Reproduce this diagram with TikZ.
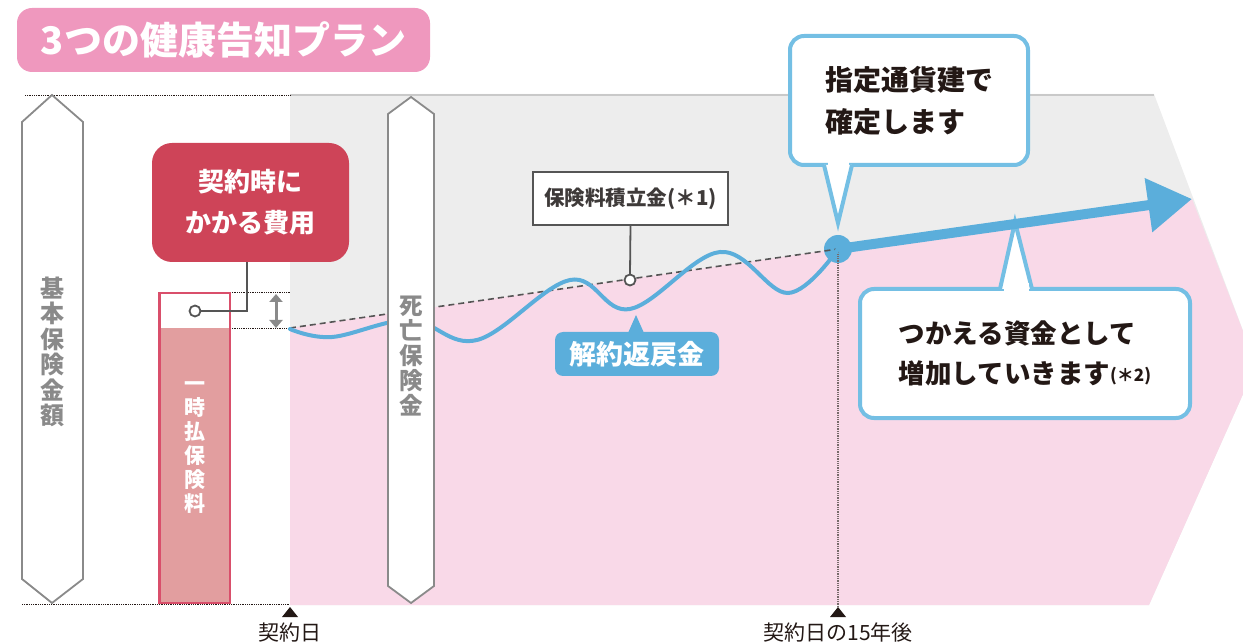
\documentclass[tikz,border=0pt]{standalone}
\usepackage{fontspec}
\setmainfont{Noto Sans CJK JP}
\usetikzlibrary{arrows.meta}
\definecolor{titlepink}{HTML}{EF98BE}
\definecolor{grayfill}{HTML}{EDEDED}
\definecolor{graytop}{HTML}{C9C9C9}
\definecolor{pinkfill}{HTML}{F9D9E8}
\definecolor{wblue}{HTML}{5BAEDB}
\definecolor{cblue}{HTML}{74BFE4}
\definecolor{redbox}{HTML}{CE4458}
\definecolor{barfill}{HTML}{E29E9F}
\definecolor{barborder}{HTML}{D94F6B}
\definecolor{agray}{HTML}{8A8A8A}
\definecolor{dark}{HTML}{231815}
\definecolor{boxgray}{HTML}{555555}
\definecolor{boxtext}{HTML}{3E3A39}
\begin{document}
\begin{tikzpicture}[x=1pt,y=-1pt,
  every node/.style={inner sep=0pt, outer sep=0pt},
  guide/.style={dark, line width=0.8pt, densely dotted},
  vshape/.style={agray, line width=1.8pt, fill=white, line join=miter},
  vtext/.style={agray, align=center, font=\fontsize{24}{25.5}\selectfont\bfseries},
  callout/.style={draw=cblue, line width=4pt, fill=white, rounded corners=14pt, text=dark, align=left},
  conn/.style={boxgray, line width=1.8pt},
  smallring/.style={circle, draw=boxgray, line width=1.8pt, fill=white, minimum size=11pt},
  datelabel/.style={dark, font=\fontsize{21}{21}\selectfont}
]
\useasboundingbox (0,0) rectangle (1243,644);

% title
\node[fill=titlepink, rounded corners=15pt, minimum width=413pt, minimum height=64pt,
      text=white, font=\fontsize{38}{38}\selectfont\bfseries] (title) at (223.5,40) {3つの健康告知プラン};

% background regions
\fill[grayfill] (290,94) -- (1154,94) -- (1256,365) -- (1149,605) -- (290,605) -- cycle;
\draw[graytop, line width=2pt] (290,95) -- (1154,95);
\fill[pinkfill] (290,328) -- (838,249) -- (1192,199) -- (1256,365) -- (1149,605) -- (290,605) -- cycle;

% guide lines
\coordinate (gtopL) at (25,95);   \coordinate (gtopR) at (290,95);
\coordinate (gbotL) at (22,604);  \coordinate (gbotR) at (290,604);
\coordinate (g1L) at (158,292);   \coordinate (g1R) at (290,292);
\coordinate (g2L) at (158,328);   \coordinate (g2R) at (290,328);
\draw[guide] (gtopL) -- (gtopR);
\draw[guide] (gbotL) -- (gbotR);
\draw[guide] (g1L) -- (g1R);
\draw[guide] (g2L) -- (g2R);

% left arrow shape
\draw[vshape] (52,95) -- (83,122) -- (83,579) -- (52,603) -- (22,579) -- (22,122) -- cycle;
\node[vtext] (basic) at (52,352) {基\\本\\保\\険\\金\\額};

% premium bar
\fill[barfill] (158,328) rectangle (231,604);
\draw[barborder, line width=2.5pt] (159.25,293.25) rectangle (229.75,602.75);
\node[white, align=center, font=\fontsize{21}{24}\selectfont\bfseries] (prem) at (194.5,448) {一\\時\\払\\保\\険\\料};

% cost box
\node[fill=redbox, rounded corners=20pt, minimum width=197pt, minimum height=119pt,
      text=white, align=center, font=\fontsize{26}{41}\selectfont\bfseries] (cost) at (250.5,202.5) {契約時に\\かかる費用};
\node[smallring] (cring) at (195,311) {};
\coordinate (ck) at (247,262);
\draw[conn] (cring.east) -| (ck);

% small double arrow
\coordinate (da1) at (276,294);
\coordinate (da2) at (276,328);
\draw[agray, line width=3pt, {Triangle[length=8pt,width=13pt]}-{Triangle[length=8pt,width=13pt]}] (da1) -- (da2);

% dashed accumulation line
\coordinate (dstart) at (290,328);
\node[circle, fill=wblue, minimum size=28pt] (dot) at (838,249) {};
\draw[boxgray, line width=1.6pt, dash pattern=on 6pt off 4pt] (dstart) -- (dot.center);

% vertical dotted line at 15 years
\coordinate (v15) at (838,606);
\draw[color=boxgray!80!pink, line width=1.3pt, densely dotted] (dot.center) -- (v15);

% wave
\draw[wblue, line width=4pt, line cap=round] plot[smooth, tension=0.62] coordinates
  {(290,329) (332,337) (410,320) (477,340) (570,280) (630,309) (720,252) (788,293) (838,249)};

% death benefit arrow shape
\draw[vshape] (411,97) -- (434,114) -- (434,586) -- (411,603) -- (388,586) -- (388,114) -- cycle;
\node[vtext, font=\fontsize{23.5}{25}\selectfont\bfseries] (death) at (411,356) {死\\亡\\保\\険\\金};

% fund box
\node[draw=boxgray, line width=2pt, fill=white, minimum width=195pt, minimum height=53pt,
      text=boxtext, font=\fontsize{20.5}{20.5}\selectfont\bfseries] (fund) at (630.5,198.5) {保険料積立金(＊1)};
\node[smallring] (fring) at (630,280) {};
\draw[conn] (fund.south) -- (fring.north);

% surrender value label
\node[fill=wblue, rounded corners=8pt, minimum width=164pt, minimum height=44pt,
      text=white, font=\fontsize{27}{27}\selectfont\bfseries] (surr) at (637,354) {解約返戻金};
\coordinate (surrtip) at (636,315);
\fill[wblue] (628,333) -- (surrtip) -- (644,333) -- cycle;

% callout 2 (below arrow)
\node[callout, minimum width=330pt, minimum height=129pt,
      font=\fontsize{26.5}{40}\selectfont\bfseries] (grow) at (1025,353.5)
      {つかえる資金として\\増加していきます{\fontsize{17}{17}\selectfont\raisebox{2pt}{(＊2)}}};
\coordinate (growtip) at (1015,222);
\draw[cblue, line width=4pt, fill=white, line join=miter] (1000,289) -- (growtip) -- (1032,289);
\fill[white] (1003.5,283) rectangle (1028.5,291);

% main thick arrow
\coordinate (tip) at (1192,199);
\draw[wblue, line width=10pt, -{Triangle[length=44pt,width=52pt]}] (dot.center) -- (tip);

% callout 1 (above dot)
\node[callout, minimum width=238pt, minimum height=129pt,
      font=\fontsize{28}{42}\selectfont\bfseries] (fix) at (909,100.5)
      {指定通貨建で\\確定します};
\coordinate (fixtip) at (838,223);
\draw[cblue, line width=4pt, fill=white, line join=miter] (824,165) -- (fixtip) -- (852,165);
\fill[white] (827.5,160) rectangle (848.5,167);

% date markers
\node[datelabel] (d0) at (290,633) {契約日};
\node[datelabel] (d15) at (838,633) {契約日の15年後};
\fill[dark] (290,607) -- (298,617) -- (282,617) -- cycle;
\fill[dark] (838,607) -- (846,617) -- (830,617) -- cycle;
\end{tikzpicture}
\end{document}
